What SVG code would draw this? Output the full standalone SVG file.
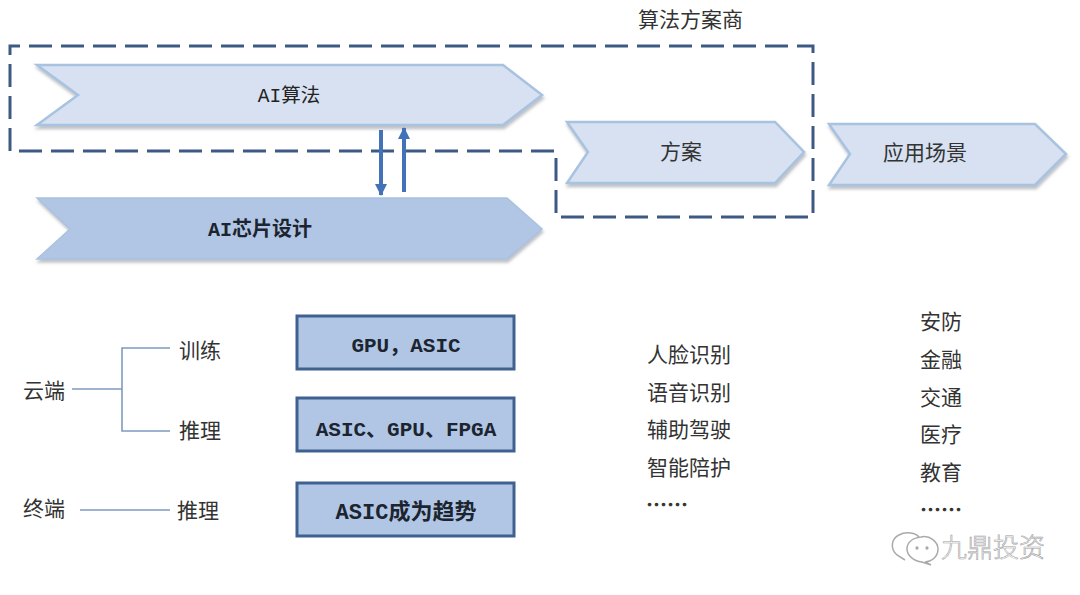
<svg xmlns="http://www.w3.org/2000/svg" width="1080" height="595" viewBox="0 0 1080 595">
<style>
text{font-family:"Liberation Mono","Noto Sans CJK SC",monospace;fill:#222;text-anchor:middle}
.t{font-family:"Noto Sans CJK SC",sans-serif;font-size:21px;fill:#333;text-anchor:start}
.d{stroke:#222;stroke-width:.7}
.c{font-size:19.5px;fill:#222}
.b{font-weight:700;font-size:21px;fill:#1c2430}
.l{stroke:#7f9bc0;stroke-width:1.6;fill:none}
.chev{fill:#d7e1f1;stroke:#a8c3e0;stroke-width:2.5;stroke-linejoin:miter;filter:url(#sh)}
.chev2{fill:#b0c6e4;stroke:#a9c2e0;stroke-width:1.5;filter:url(#sh)}
.box{fill:#b0c6e4;stroke:#3f618f;stroke-width:3}
.arr{stroke:#4472b8;stroke-width:4;fill:none}
</style>
<defs>
<filter id="sh" x="-5%" y="-10%" width="110%" height="125%"><feDropShadow dx="1" dy="3" stdDeviation="1.6" flood-color="#8a8f98" flood-opacity=".55"/></filter>
<marker id="ah" markerUnits="userSpaceOnUse" markerWidth="13" markerHeight="13" refX="11" refY="6.5" orient="auto"><path d="M0,0.5 L12,6.5 L0,12.5 Z" fill="#4472b8"/></marker>
</defs>
<rect width="1080" height="595" fill="#fff"/>
<g id="node-algo"><polygon class="chev" points="37,65 503,65 542,95 503,125 37,125 78,95"/><text class="c" x="289" y="102">AI算法</text></g>
<g id="node-chip"><polygon class="chev2" points="37,198 507,198 542,229 507,259 37,259 70,229"/><text class="b" style="font-size:20px" x="260" y="236">AI芯片设计</text></g>
<g id="node-solution"><polygon class="chev" points="567,122 775,122 804,152 775,183 567,183 588,152"/><text class="t" x="660" y="159">方案</text></g>
<g id="node-scene"><polygon class="chev" points="829,124 1035,124 1066,154 1035,185 829,185 850,154"/><text class="t" x="883" y="160">应用场景</text></g>
<g id="connectors">
<path d="M10,46 H813 V217 H556 V151 H10 Z" fill="none" stroke="#3d5a85" stroke-width="3" stroke-dasharray="23,9" stroke-dashoffset="13"/>
<path class="arr" d="M381,130 V195" marker-end="url(#ah)"/>
<path class="arr" d="M404,192 V128" marker-end="url(#ah)"/>
<path class="l" d="M72,389 H122 M170,348 H122 V431 H170 M80,510 H170"/>
</g>
<g id="node-gpu-asic"><rect class="box" x="297" y="316" width="217" height="53"/><text class="b" x="406" y="352">GPU，ASIC</text></g>
<g id="node-asic-gpu-fpga"><rect class="box" x="297" y="398" width="217" height="53"/><text class="b" x="406" y="436">ASIC、GPU、FPGA</text></g>
<g id="node-asic-trend"><rect class="box" x="297" y="483" width="217" height="53"/><text class="b" style="font-size:22px" x="406" y="519">ASIC成为趋势</text></g>
<g id="labels">
<text class="t" x="638" y="27">算法方案商</text>
<text class="t" x="23" y="398">云端</text>
<text class="t" x="23" y="516">终端</text>
<text class="t" x="179" y="358">训练</text>
<text class="t" x="179" y="438">推理</text>
<text class="t" x="177" y="518">推理</text>
<text class="t" x="647" y="362">人脸识别</text>
<text class="t" x="647" y="400">语音识别</text>
<text class="t" x="647" y="437">辅助驾驶</text>
<text class="t" x="647" y="475">智能陪护</text>
<text class="t d" x="646" y="512">……</text>
<text class="t" x="920" y="329">安防</text>
<text class="t" x="920" y="367">金融</text>
<text class="t" x="920" y="405">交通</text>
<text class="t" x="920" y="442">医疗</text>
<text class="t" x="920" y="480">教育</text>
<text class="t d" x="920" y="517">……</text>
</g>
<g id="watermark" fill="none" stroke="#aaa" stroke-width="1.5">
<path d="M905,560 L897,555 C890,549 891,539 899,535 C906,531 916,533 919,537"/>
<path d="M921,537 C930,535 938,542 938,549 C938,557 931,562 925,562 L931,565 L922,562 C913,561 907,555 907,549 C907,542 913,538 921,537 Z"/>
<circle cx="917" cy="548" r=".9" fill="#999"/><circle cx="927" cy="548" r=".9" fill="#999"/>
<text x="941" y="557" style="font-family:'Noto Sans CJK SC',sans-serif;font-size:26px;font-weight:300;fill:#fff;stroke:#a0a0a0;stroke-width:.6;text-anchor:start">九鼎投资</text>
</g>
</svg>
